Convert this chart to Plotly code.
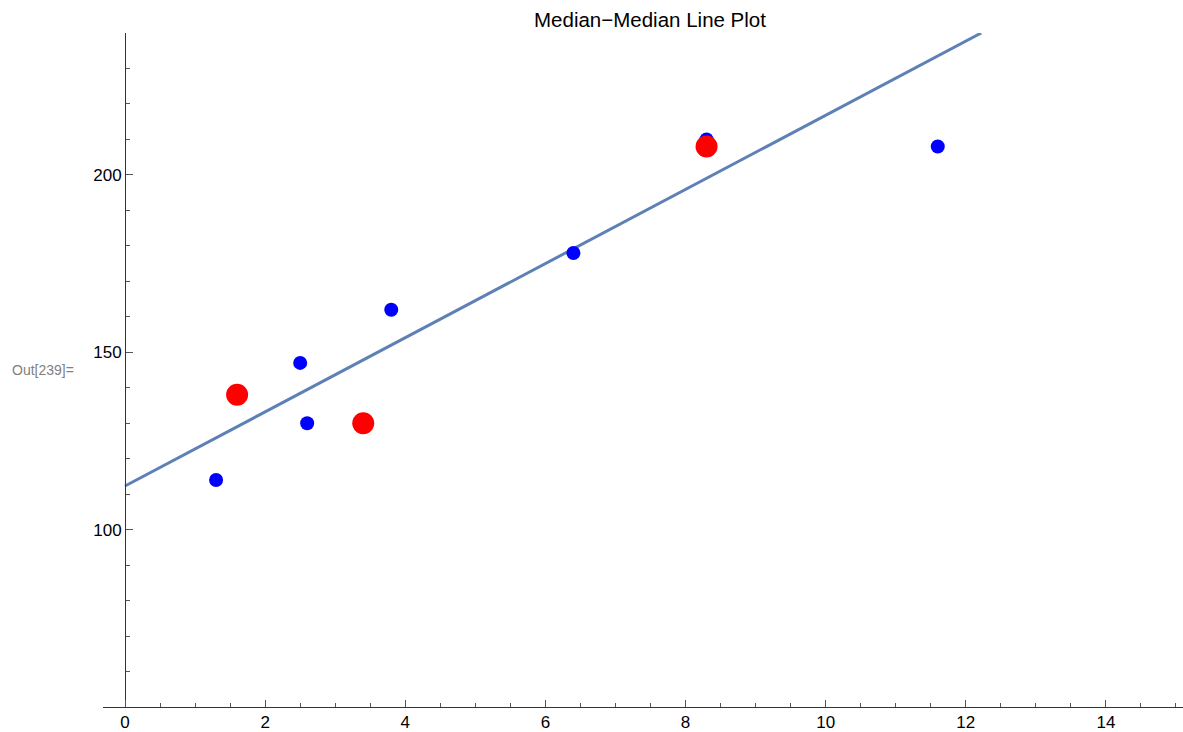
import plotly.graph_objects as go

# Data points (blue)
data_x = [1.3, 2.5, 2.6, 3.8, 6.4, 8.3, 11.6]
data_y = [114, 147, 130, 162, 178, 210, 208]

# Median summary points (red)
median_x = [1.6, 3.4, 8.3]
median_y = [138, 130, 208]

# Median-median line endpoints
line_x = [0.0, 12.22]
line_y = [112.3, 240.0]

x_tick_vals = [0, 2, 4, 6, 8, 10, 12, 14]
y_tick_vals = [100, 150, 200]

FONT = "Liberation Sans, Arial, sans-serif"

fig = go.Figure()
fig.add_trace(go.Scatter(x=line_x, y=line_y, mode="lines",
                         line=dict(color="#5E81B5", width=3), showlegend=False,
                         hoverinfo="skip"))
fig.add_trace(go.Scatter(x=data_x, y=data_y, mode="markers",
                         marker=dict(color="#0000FF", size=14, line=dict(width=0)),
                         showlegend=False))
fig.add_trace(go.Scatter(x=median_x, y=median_y, mode="markers",
                         marker=dict(color="#FF0000", size=22, line=dict(width=0)),
                         showlegend=False))

fig.update_layout(
    width=1183, height=732,
    margin=dict(l=103, r=0, t=33, b=22),
    paper_bgcolor="white", plot_bgcolor="white",
    font=dict(family=FONT, size=17, color="black"),
    title=dict(text="Median\u2212Median Line Plot", x=(650 - 103) / 1080, xref="paper",
               xanchor="center", y=1 - 20 / 732, yref="container", yanchor="middle",
               font=dict(family=FONT, size=20.5, color="black")),
    xaxis=dict(range=[-0.314, 15.1], showgrid=False, zeroline=False,
               showline=True, linecolor="#333333", linewidth=1,
               ticks="inside", ticklen=7, tickwidth=1, tickcolor="#555555",
               tickvals=x_tick_vals,
               minor=dict(ticks="inside", dtick=0.5, tick0=0, ticklen=4,
                          tickcolor="#555555", showgrid=False),
               tickfont=dict(family=FONT, size=17, color="black")),
    yaxis=dict(range=[50, 240], showgrid=False, zeroline=False,
               anchor="free", position=22 / 1080,
               showline=True, linecolor="#333333", linewidth=1,
               ticks="inside", ticklen=7, tickwidth=1, tickcolor="#555555",
               tickvals=y_tick_vals,
               minor=dict(ticks="inside", dtick=10, tick0=0, ticklen=4,
                          tickcolor="#555555", showgrid=False),
               tickfont=dict(family=FONT, size=17, color="black")),
)

fig.add_annotation(text="Out[239]=", xref="paper", yref="paper",
                   x=(10 - 103) / 1080, y=(710 - 371) / 677,
                   xanchor="left", yanchor="middle", showarrow=False,
                   font=dict(family=FONT, size=14, color="#808080"))

fig.write_html("out.html", config={"displayModeBar": False},
               post_script="document.body.style.margin='0';document.body.style.overflow='hidden';")
